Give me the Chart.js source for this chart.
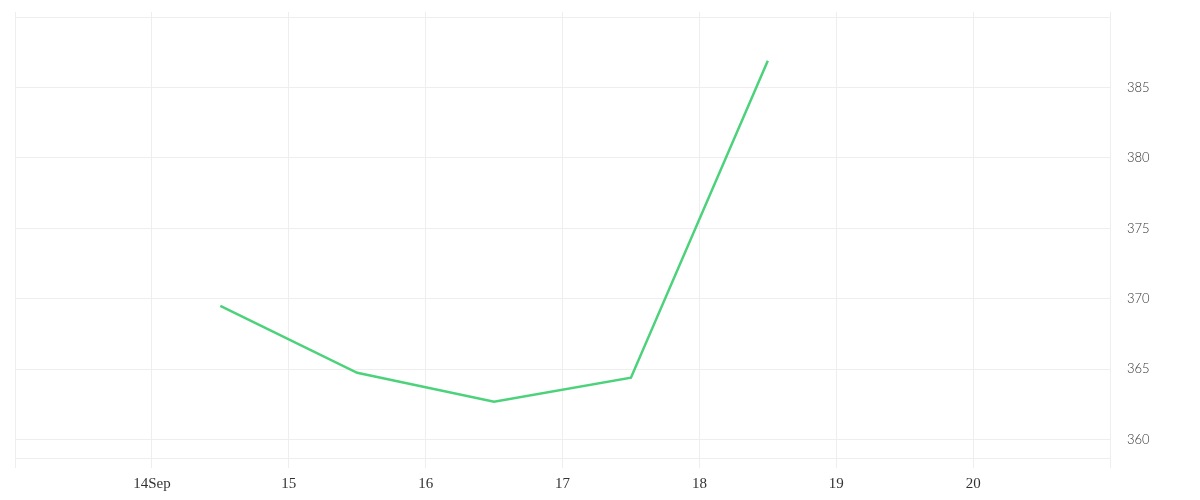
<!DOCTYPE html>
<html>
<head>
<meta charset="utf-8">
<script src="https://cdn.jsdelivr.net/npm/chart.js@4.4.1/dist/chart.umd.min.js"></script>
<style>
  html, body { margin: 0; padding: 0; background: #fff; }
  #wrap { width: 1200px; height: 500px; }
</style>
</head>
<body>
<div id="wrap"><canvas id="lineChart" width="1200" height="500"></canvas></div>
<script>
  // day of September (12:00 = .5) and the closing values
  const dayPositions = [14.5, 15.5, 16.5, 17.5, 18.5];
  const seriesValues = [369.5, 364.75, 362.7, 364.4, 386.9];
  const tickDays = [14, 15, 16, 17, 18, 19, 20];
  const tickLabels = ['14Sep', '15', '16', '17', '18', '19', '20'];
  const yTicks = [360, 365, 370, 375, 380, 385, 390];
  const yLabelled = [360, 365, 370, 375, 380, 385];

  (function() {
    if (typeof Chart === 'undefined') return;

    const gridColor = '#eeeeee';
    const points = dayPositions.map(function(d, i) {
      return { x: d, y: seriesValues[i] };
    });

    new Chart(document.getElementById('lineChart'), {
      type: 'line',
      data: {
        datasets: [{
          data: points,
          borderColor: '#4cd27b',
          borderWidth: 2.5,
          pointRadius: 0,
          tension: 0,
          fill: false
        }]
      },
      options: {
        responsive: false,
        animation: false,
        layout: { padding: { left: 15, top: 12, right: 0, bottom: 0 } },
        plugins: {
          legend: { display: false },
          tooltip: { enabled: false }
        },
        scales: {
          x: {
            type: 'linear',
            min: 13,
            max: 21,
            afterBuildTicks: function(scale) {
              scale.ticks = [13].concat(tickDays, [21]).map(function(v) { return { value: v }; });
            },
            afterFit: function(scale) {
              scale.height = 42;
              scale.paddingLeft = 0;
              scale.paddingRight = 0;
            },
            grid: { color: gridColor, tickLength: 10, lineWidth: 1 },
            border: { color: gridColor },
            ticks: {
              autoSkip: false,
              maxRotation: 0,
              padding: 7,
              color: '#333',
              font: { family: '"Liberation Serif", serif', size: 15 },
              callback: function(value) {
                const i = tickDays.indexOf(value);
                return i >= 0 ? tickLabels[i] : '';
              }
            }
          },
          y: {
            position: 'right',
            min: 358.7,
            max: 390.36,
            afterBuildTicks: function(scale) {
              scale.ticks = yTicks.map(function(v) { return { value: v }; });
            },
            afterFit: function(scale) {
              scale.width = 90;
              scale.paddingTop = 0;
              scale.paddingBottom = 0;
            },
            grid: { color: gridColor, drawTicks: false },
            border: { color: gridColor },
            ticks: {
              padding: 17,
              color: '#333',
              font: { family: 'Lato, sans-serif', size: 13, weight: '300' },
              callback: function(value) {
                return yLabelled.indexOf(value) >= 0 ? String(value) : '';
              }
            }
          }
        }
      }
    });
  })();
</script>
</body>
</html>
